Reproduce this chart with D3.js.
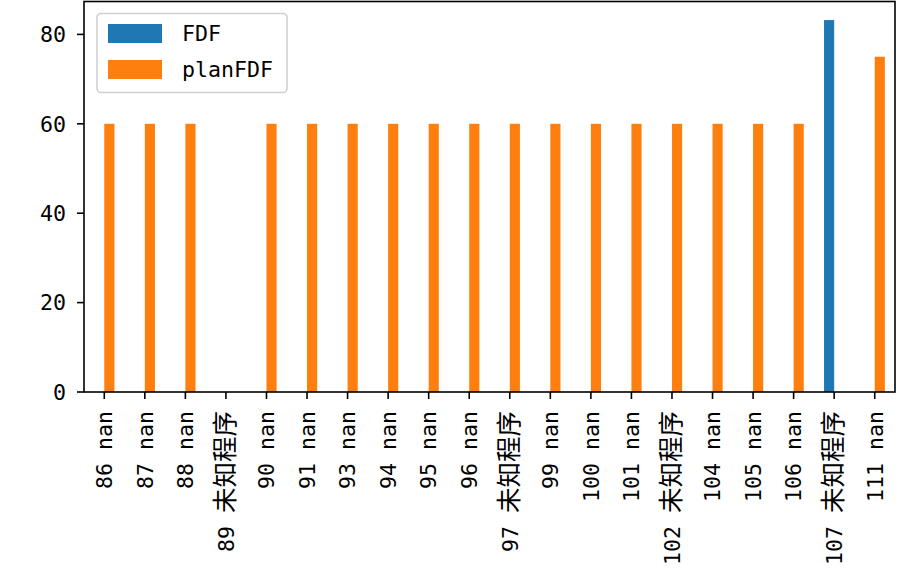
<!DOCTYPE html>
<html>
<head>
<meta charset="utf-8">
<script src="https://cdn.jsdelivr.net/npm/d3@7"></script>
<style>
  body { margin: 0; background: #fff; }
  svg { display: block; }
</style>
</head>
<body>
<svg id="chart" width="897" height="577"></svg>
<script>
// categories and series (NaN = missing bar)
const categories = ['86 nan', '87 nan', '88 nan', '89 未知程序', '90 nan', '91 nan',
  '93 nan', '94 nan', '95 nan', '96 nan', '97 未知程序', '99 nan', '100 nan',
  '101 nan', '102 未知程序', '104 nan', '105 nan', '106 nan', '107 未知程序', '111 nan'];
const fdf = [NaN, NaN, NaN, NaN, NaN, NaN, NaN, NaN, NaN, NaN,
  NaN, NaN, NaN, NaN, NaN, NaN, NaN, NaN, 83.2, NaN];
const planFdf = [60, 60, 60, NaN, 60, 60, 60, 60, 60, 60,
  60, 60, 60, 60, 60, 60, 60, 60, NaN, 75];
const yTicks = [0, 20, 40, 60, 80];
const seriesNames = ['FDF', 'planFDF'];
const seriesColors = ['#1f77b4', '#ff7f0e'];

const LATIN = 'DejaVu Sans Mono, Liberation Mono, monospace';
const CJK = 'Noto Sans CJK SC, sans-serif';
const latinSize = 21.6;
const cjkSize = 25.5;

const svg = d3.select('#chart');
const axLeft = 84; const axRight = 895; const axTop = 1.5; const axBottom = 392;

const x = d3.scaleBand().domain(categories).range([axLeft, axRight])
    .paddingInner(0).paddingOuter(0);
const yMax = d3.max([...fdf, ...planFdf].filter((v) => !isNaN(v))) * 1.05;
const y = d3.scaleLinear().domain([0, yMax]).range([axBottom, axTop]);
const bw = x.bandwidth() * 0.25;

// put text into a text element, switching font for CJK runs
function mixedText(sel, str) {
  const runs = str.match(/[\u4e00-\u9fff]+|[^\u4e00-\u9fff]+/g) || [];
  runs.forEach((r) => {
    const isCjk = /[\u4e00-\u9fff]/.test(r);
    sel.append('tspan')
        .attr('font-family', isCjk ? CJK : LATIN)
        .attr('font-size', isCjk ? cjkSize : latinSize)
        .style('white-space', 'pre')
        .text(r);
  });
}

// bars
const series = [fdf, planFdf];
series.forEach((vals, si) => {
  svg.append('g')
      .selectAll('rect')
      .data(categories.map((c, i) => ({c, v: vals[i]})).filter((d) => !isNaN(d.v)))
      .join('rect')
      .attr('x', (d) => x(d.c) + x.bandwidth() / 2 + (si - 1) * bw)
      .attr('y', (d) => y(d.v))
      .attr('width', bw)
      .attr('height', (d) => y(0) - y(d.v))
      .attr('fill', seriesColors[si]);
});

// y axis
const yAxis = svg.append('g');
yTicks.forEach((t) => {
  yAxis.append('line')
      .attr('x1', axLeft - 7).attr('x2', axLeft)
      .attr('y1', y(t)).attr('y2', y(t))
      .attr('stroke', '#000').attr('stroke-width', 1.6);
  yAxis.append('text')
      .attr('x', axLeft - 18).attr('y', y(t)).attr('dy', '0.36em')
      .attr('text-anchor', 'end')
      .attr('font-family', LATIN).attr('font-size', latinSize)
      .text(t);
});

// x axis ticks and rotated labels
const xAxis = svg.append('g');
categories.forEach((c) => {
  const cx = x(c) + x.bandwidth() / 2;
  xAxis.append('line')
      .attr('x1', cx).attr('x2', cx)
      .attr('y1', axBottom).attr('y2', axBottom + 7)
      .attr('stroke', '#000').attr('stroke-width', 1.6);
  const t = xAxis.append('text')
      .attr('transform', `translate(${cx},${axBottom + 19}) rotate(-90)`)
      .attr('text-anchor', 'end')
      .attr('dy', '0.36em')
      .attr('font-family', LATIN).attr('font-size', latinSize);
  mixedText(t, c);
});

// frame
svg.append('rect')
    .attr('x', axLeft).attr('y', axTop)
    .attr('width', axRight - axLeft).attr('height', axBottom - axTop)
    .attr('fill', 'none').attr('stroke', '#000').attr('stroke-width', 1.6);

// legend
const lg = svg.append('g');
lg.append('rect')
    .attr('x', 97).attr('y', 13.5).attr('width', 190).attr('height', 79)
    .attr('rx', 4)
    .attr('fill', '#fff').attr('fill-opacity', 0.8)
    .attr('stroke', '#d0d0d0').attr('stroke-width', 1.6);
seriesNames.forEach((n, i) => {
  const yy = 24 + i * 36;
  lg.append('rect')
      .attr('x', 108).attr('y', yy).attr('width', 54).attr('height', 19)
      .attr('fill', seriesColors[i]);
  lg.append('text')
      .attr('x', 182).attr('y', yy + 9.5).attr('dy', '0.36em')
      .attr('font-family', LATIN).attr('font-size', latinSize)
      .text(n);
});
</script>
</body>
</html>
